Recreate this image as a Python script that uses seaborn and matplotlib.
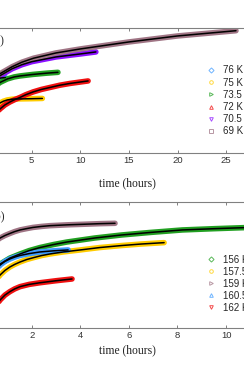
import numpy as np
import pandas as pd
import seaborn as sns
import matplotlib.pyplot as plt
from matplotlib.lines import Line2D

# panel (a): relaxation curves, hours vs normalised signal (arbitrary units)
t_69 = [0.5, 1, 1.75, 3, 4, 5.2, 7.5, 10, 12.5, 15, 17.5, 20, 23, 26]
y_69 = [0.530, 0.580, 0.632, 0.688, 0.724, 0.756, 0.798, 0.830, 0.858, 0.886, 0.910, 0.934, 0.955, 0.976]
t_705 = [0.5, 1, 1.75, 3, 4, 5, 7.5, 10, 11.6]
y_705 = [0.516, 0.566, 0.616, 0.672, 0.704, 0.728, 0.766, 0.790, 0.806]
t_76 = [0.2, 0.6, 1, 1.5, 2.3]
y_76 = [0.486, 0.550, 0.582, 0.594, 0.602]
t_735 = [0.3, 0.8, 1.25, 1.75, 2.5, 3.2, 3.8, 5.1, 6.5, 7.7]
y_735 = [0.422, 0.486, 0.530, 0.562, 0.590, 0.606, 0.614, 0.626, 0.636, 0.643]
t_72 = [0.5, 1, 1.4, 1.75, 2.25, 2.77, 3.3, 3.8, 4.4, 5.14, 6, 6.89, 7.9, 8.94, 10.8]
y_72 = [0.222, 0.286, 0.322, 0.350, 0.382, 0.406, 0.426, 0.442, 0.464, 0.486, 0.506, 0.522, 0.540, 0.554, 0.574]
t_75 = [0.5, 1, 1.4, 1.75, 2.1, 2.5, 3, 3.5, 5, 6.1]
y_75 = [0.278, 0.342, 0.376, 0.398, 0.412, 0.422, 0.428, 0.430, 0.432, 0.434]

# panel (b)
t_159 = [0.3, 0.5, 0.7, 0.9, 1.1, 1.3, 1.52, 1.8, 2.05, 2.4, 2.75, 3.5, 4.1, 4.8, 5.43]
y_159 = [0.636, 0.684, 0.716, 0.736, 0.752, 0.767, 0.780, 0.791, 0.800, 0.808, 0.814, 0.821, 0.825, 0.830, 0.833]
t_156 = [0.3, 0.5, 0.7, 1.1, 1.52, 1.9, 2.34, 2.9, 3.45, 4.6, 5.7, 6.87, 8.2, 9.5, 10.7, 11.4]
y_156 = [0.382, 0.456, 0.509, 0.556, 0.589, 0.616, 0.640, 0.664, 0.684, 0.716, 0.740, 0.760, 0.780, 0.790, 0.798, 0.801]
t_1575 = [0.3, 0.5, 0.7, 0.9, 1.1, 1.3, 1.52, 1.8, 2.1, 2.4, 2.75, 3.3, 4, 4.8, 5.7, 6.5, 7.45]
y_1575 = [0.286, 0.370, 0.422, 0.458, 0.485, 0.506, 0.525, 0.545, 0.561, 0.576, 0.589, 0.605, 0.621, 0.640, 0.656, 0.668, 0.679]
t_1605 = [0.3, 0.5, 0.7, 0.9, 1.1, 1.3, 1.52, 1.9, 2.34, 2.9, 3.5]
y_1605 = [0.382, 0.456, 0.501, 0.530, 0.549, 0.564, 0.577, 0.592, 0.605, 0.614, 0.621]
t_162 = [0.3, 0.5, 0.7, 0.9, 1.1, 1.3, 1.52, 1.9, 2.34, 3, 3.66]
y_162 = [0.080, 0.170, 0.223, 0.262, 0.289, 0.311, 0.329, 0.347, 0.360, 0.376, 0.390]

labels_a = ["76 K", "75 K", "73.5 K", "72 K", "70.5 K", "69 K"]
labels_b = ["156 K", "157.5 K", "159 K", "160.5 K", "162 K"]

c_blue = "#3f9cff"
c_yel = "#ffcc00"
c_green = "#22a022"
c_red = "#f01010"
c_purp = "#8a10ff"
c_mauve = "#a07585"

series_a = [(t_76, y_76, c_blue, "D"), (t_75, y_75, c_yel, "o"),
            (t_735, y_735, c_green, ">"), (t_72, y_72, c_red, "^"),
            (t_705, y_705, c_purp, "v"), (t_69, y_69, c_mauve, "s")]
series_b = [(t_156, y_156, c_green, "D"), (t_1575, y_1575, c_yel, "o"),
            (t_159, y_159, c_mauve, ">"), (t_1605, y_1605, c_blue, "^"),
            (t_162, y_162, c_red, "v")]

sns.set_theme(style="white")
plt.rcParams['font.family'] = ['Liberation Sans', 'DejaVu Sans']

W, H = 244, 369
fig = plt.figure(figsize=(W / 100, H / 100), dpi=100)

def px_ax(x0, x1, top, bot):
    return fig.add_axes([x0 / W, 1 - bot / H, (x1 - x0) / W, (bot - top) / H])

ax1 = px_ax(-17, 271, 27.7, 152.7)
ax2 = px_ax(-16.9, 271, 202.3, 328)

def draw(ax, series):
    for t, y, c, m in series:
        df = pd.DataFrame({"t": t, "y": y})
        sns.lineplot(data=df, x="t", y="y", color=c, lw=4.0, ax=ax,
                     solid_capstyle="round", sort=False)
    for t, y, c, m in series:
        df = pd.DataFrame({"t": t, "y": y})
        sns.lineplot(data=df, x="t", y="y", color="black", lw=1.1, ax=ax, sort=False)

draw(ax1, series_a)
draw(ax2, series_b)

ax1.set_xlim(0, 29.6)
ax2.set_xlim(0, 11.85)
ax1.set_xticks([5, 10, 15, 20, 25])
ax2.set_xticks([2, 4, 6, 8, 10])
for ax, lp in ((ax1, 8.5), (ax2, 2.5)):
    ax.set_ylim(0, 1)
    ax.set_yticks([])
    ax.set_ylabel("")
    ax.set_xlabel("time (hours)", family="Liberation Serif", fontsize=8.4,
                  color="#222222", labelpad=lp)
    for s in ax.spines.values():
        s.set_color("#808080")
        s.set_linewidth(0.8)
    ax.tick_params(axis="x", direction="in", top=True, bottom=True, length=2.5,
                   width=0.7, color="#808080", labelsize=6.8, labelcolor="#333333", pad=2.5)

def legend(ax, series, labels, top_px, spacing):
    handles = [Line2D([], [], ls="none", marker=m, mfc="none", mec=c, ms=2.6, mew=0.7,
                      alpha=0.75)
               for t, y, c, m in series]
    ax.legend(handles, labels, loc="upper left", bbox_to_anchor=(205.8 / W, 1 - top_px / H),
              bbox_transform=fig.transFigure, frameon=False, fontsize=7, borderpad=0,
              borderaxespad=0, handlelength=1.0, handletextpad=0.73, labelspacing=spacing)

legend(ax1, series_a, labels_a, 65.3, 0.23)
legend(ax2, series_b, labels_b, 254.8, 0.2)

fig.text(4.5 / W, 1 - 41 / H, "(a)", family="Liberation Serif", fontsize=8.5,
         ha="right", va="center")
fig.text(4.5 / W, 1 - 216 / H, "(b)", family="Liberation Serif", fontsize=8.5,
         ha="right", va="center")

fig.savefig("out.png", dpi=100)
